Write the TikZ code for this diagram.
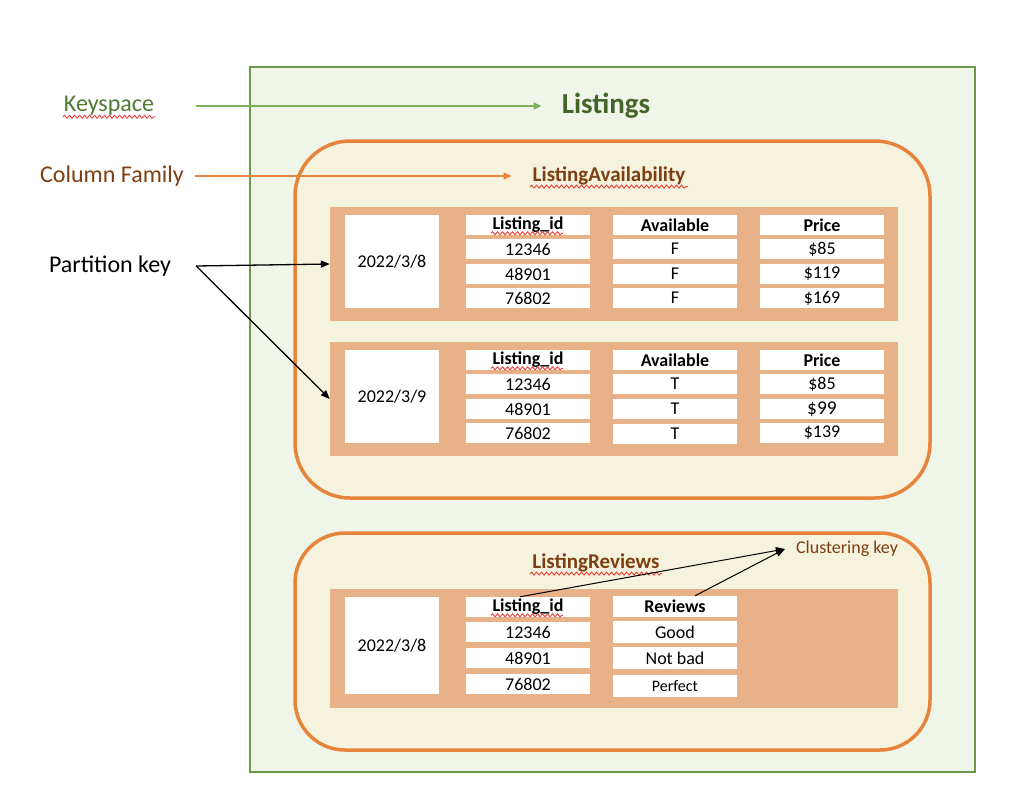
\documentclass[tikz,border=0pt]{standalone}
\usepackage{fontspec}
\setmainfont{Carlito}
\usetikzlibrary{arrows.meta,decorations.pathmorphing,calc}
\definecolor{ksfill}{HTML}{F0F5EA}
\definecolor{ksline}{HTML}{6A994A}
\definecolor{ksarrow}{HTML}{7CB05A}
\definecolor{kstext}{HTML}{4E7A34}
\definecolor{lstext}{HTML}{436628}
\definecolor{cfline}{HTML}{E7843C}
\definecolor{cffill}{HTML}{F5F2DD}
\definecolor{cftext}{HTML}{7D3F12}
\definecolor{rowfill}{HTML}{E9B188}
\definecolor{squig}{HTML}{E8413A}
\newcommand\fsz[1]{\fontsize{#1}{#1}\selectfont}
\begin{document}
\begin{tikzpicture}[x=1pt,y=-1pt,
  tcell/.style={fill=white, minimum width=124pt, minimum height=20pt, inner sep=0pt, font=\fsz{18}},
  hcell/.style={tcell, font=\fsz{18}\bfseries},
  datebox/.style={fill=white, minimum width=94pt, minimum height=93pt, inner sep=0pt, font=\fsz{18}},
  rowbox/.style={fill=rowfill, inner sep=0pt, minimum width=568pt},
  cfbox/.style={draw=cfline, line width=3.5pt, fill=cffill, rounded corners=55pt},
  lbl/.style={font=\fsz{24}, inner sep=2pt},
  ptr/.style={-{Triangle[length=9pt,width=7pt]}, line width=1.3pt, black},
  squiggle/.style={draw=squig, line width=0.9pt, decorate, decoration={snake, segment length=5pt, amplitude=1.5pt}}
]
\useasboundingbox (0,0) rectangle (1025,792);
\fill[white] (0,0) rectangle (1025,792);

% keyspace area
\draw[ksline, fill=ksfill, line width=2pt] (250,67) rectangle (975,772);

% column families
\draw[cfbox] (295,141) rectangle (930,498);
\draw[cfbox, rounded corners=50pt] (295,533) rectangle (930,750);

% labels
\node[lbl, text=kstext] (kl) at (109,106) {Keyspace};
\node[font=\fsz{29}\bfseries, text=lstext, inner sep=2pt] (ls) at (606,106) {Listings};
\node[lbl, text=cftext] (cfl) at (112,176) {Column Family};
\node[font=\fsz{21}\bfseries, text=cftext, inner sep=2pt] (la) at (609,176) {ListingAvailability};
\node[lbl] (pk) at (110,266) {Partition key};
\node[font=\fsz{21}\bfseries, text=cftext, inner sep=2pt] (lr) at (596,563) {ListingReviews};
\node[font=\fsz{18}, text=cftext, inner sep=2pt] (ck) at (847,549) {Clustering key};

% table 1
\node[rowbox, minimum height=114pt] (t1) at (614,264) {};
\node[datebox] (d1) at (392,261.5) {2022/3/8};
\node[hcell] (h11) at (528,225) {Listing\_id};
\node[hcell] (h12) at (675,225) {Available};
\node[hcell] (h13) at (822,225) {Price};
\node[tcell] (a11) at (528,249) {12346};
\node[tcell] (a12) at (528,274) {48901};
\node[tcell] (a13) at (528,298) {76802};
\node[tcell] (b11) at (675,249) {F};
\node[tcell] (b12) at (675,274) {F};
\node[tcell] (b13) at (675,298) {F};
\node[tcell] (c11) at (822,249) {\$85};
\node[tcell] (c12) at (822,274) {\$119};
\node[tcell] (c13) at (822,298) {\$169};

% table 2
\node[rowbox, minimum height=114pt] (t2) at (614,399) {};
\node[datebox] (d2) at (392,396.5) {2022/3/9};
\node[hcell] (h21) at (528,360) {Listing\_id};
\node[hcell] (h22) at (675,360) {Available};
\node[hcell] (h23) at (822,360) {Price};
\node[tcell] (a21) at (528,384) {12346};
\node[tcell] (a22) at (528,409) {48901};
\node[tcell] (a23) at (528,433) {76802};
\node[tcell] (b21) at (675,384) {T};
\node[tcell] (b22) at (675,409) {T};
\node[tcell] (b23) at (675,434) {T};
\node[tcell] (c21) at (822,384) {\$85};
\node[tcell, font=\fsz{19.5}] (c22) at (822,409) {\$99};
\node[tcell] (c23) at (822,433) {\$139};

% table 3
\node[rowbox, minimum height=119pt] (t3) at (614,648.5) {};
\node[datebox, minimum height=97pt] (d3) at (392,645.5) {2022/3/8};
\node[hcell] (h31) at (528,607) {Listing\_id};
\node[hcell, minimum height=21pt] (h32) at (675,606.5) {Reviews};
\node[tcell] (a31) at (528,632) {12346};
\node[tcell] (a32) at (528,658) {48901};
\node[tcell] (a33) at (528,684) {76802};
\node[tcell, minimum height=22pt] (b31) at (675,632) {Good};
\node[tcell, minimum height=22pt] (b32) at (675,658) {Not bad};
\node[tcell, minimum height=22pt, font=\fsz{16}] (b33) at (675,686) {Perfect};

% squiggles
\draw[squiggle] ($(kl.base)+(-46,5)$) -- ($(kl.base)+(46,5)$);
\draw[squiggle] ($(la.base)+(-79,5)$) -- ($(la.base)+(79,5)$);
\draw[squiggle] ($(lr.base)+(-66,5)$) -- ($(lr.base)+(66,5)$);
\foreach \h in {h11,h21,h31} {
  \draw[squiggle] ($(\h.base)+(-37,3.5)$) -- ($(\h.base)+(35,3.5)$);
}

% connectors
\draw[ksarrow, line width=1.5pt, -{Triangle[length=8pt,width=7pt]}, shorten <=40pt, shorten >=18pt] (kl.east) -- (ls.west);
\draw[cfline, line width=1.5pt, -{Triangle[length=8pt,width=7pt]}, shorten <=9pt, shorten >=19pt] (cfl.east) -- (la.west);
\coordinate (pks) at ([xshift=23pt]pk.east);
\draw[ptr] (pks) -- (t1.west);
\draw[ptr] (pks) -- (t2.west);
\coordinate (ckt) at ([xshift=-9pt]ck.west);
\draw[ptr, line width=1pt] ([xshift=-8pt]h31.north) -- (ckt);
\draw[ptr, line width=1pt] ([xshift=20pt]h32.north) -- (ckt);
\end{tikzpicture}
\end{document}
